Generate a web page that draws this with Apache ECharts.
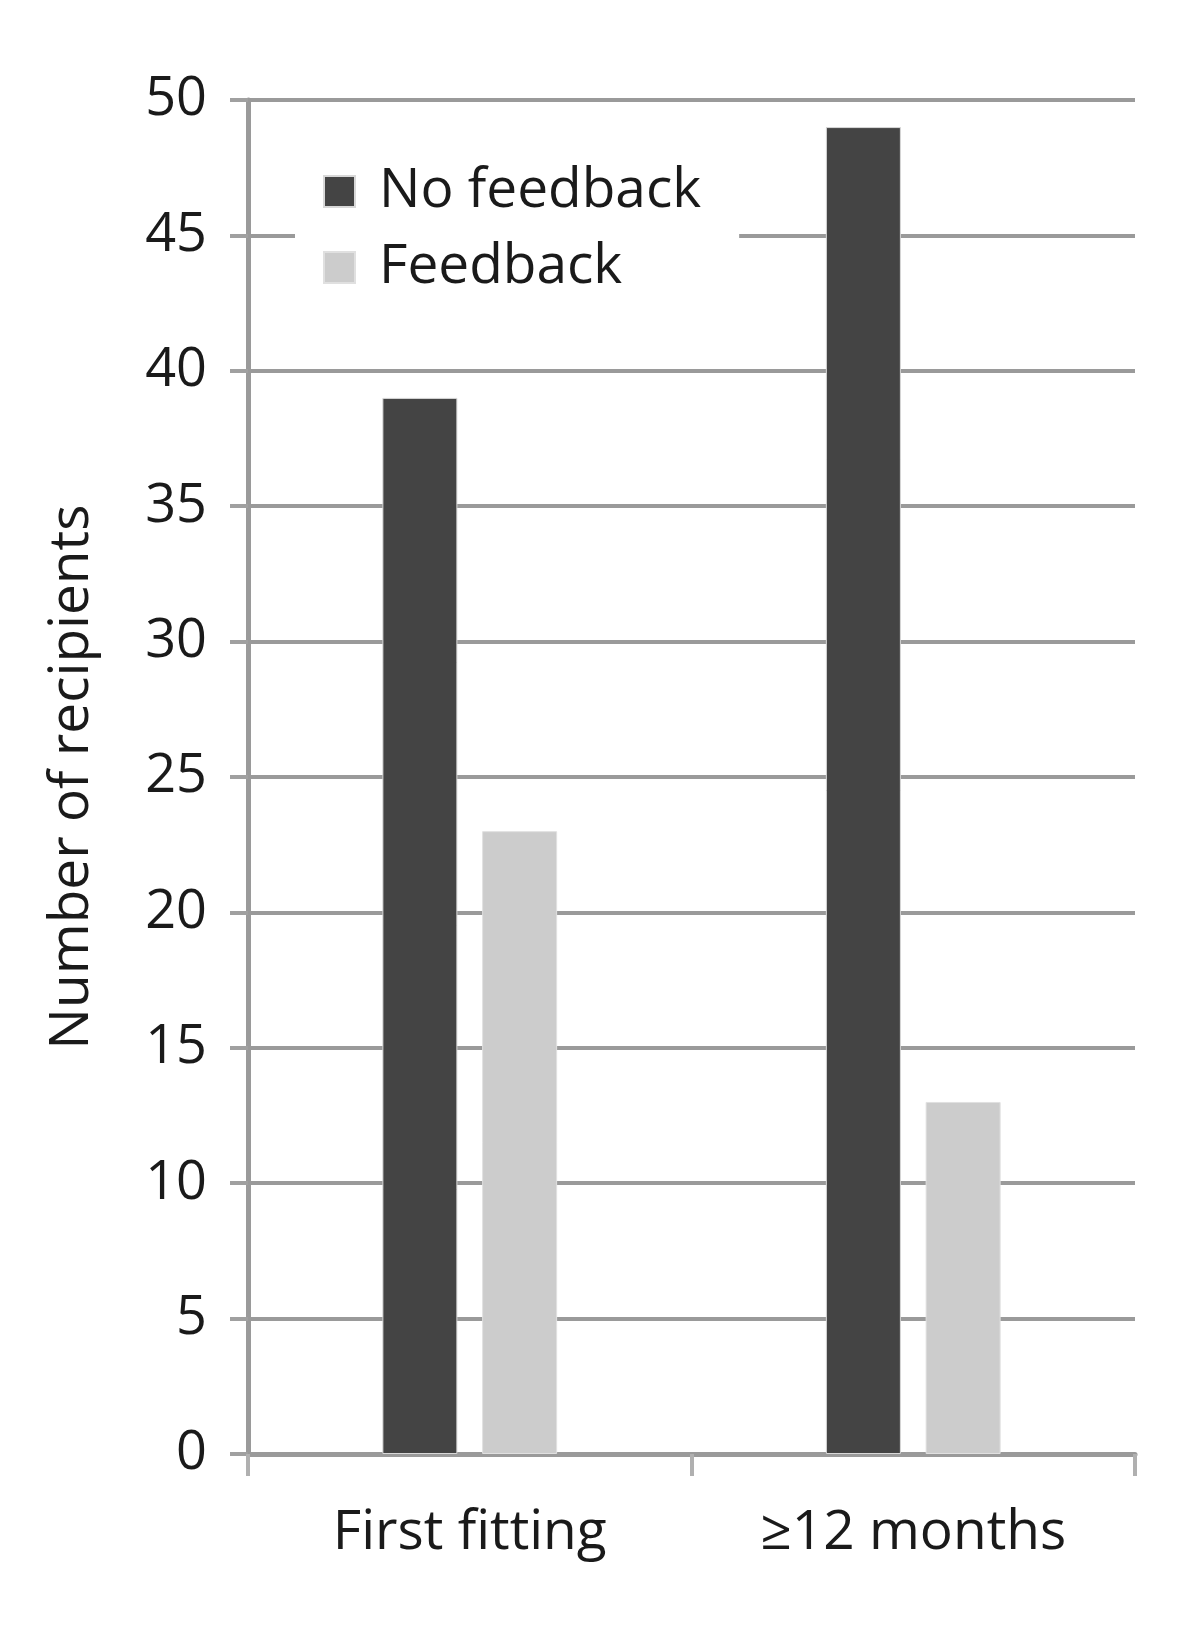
<!DOCTYPE html>
<html>
<head>
<meta charset="utf-8">
<script src="https://cdn.jsdelivr.net/npm/echarts@6/dist/echarts.min.js"></script>
<style>html,body{margin:0;padding:0;background:#fff;}#c{width:1200px;height:1625px;}</style>
</head>
<body>
<div id="c"></div>
<script>
const categories = ['First fitting', '\u226512 months'];
const noFeedback = [39, 49];
const feedback = [23, 13];
const yTicks = [0, 5, 10, 15, 20, 25, 30, 35, 40, 45, 50];

const FONT = '"Open Sans", "Noto Sans", sans-serif';
const chart = echarts.init(document.getElementById('c'), null, {renderer: 'canvas'});
chart.setOption({
  animation: false,
  backgroundColor: '#ffffff',
  grid: {left: 248, right: 65, top: 100, bottom: 171, containLabel: false},
  legend: {
    orient: 'vertical',
    left: 295, top: 150,
    padding: [14, 38, 14, 28],
    backgroundColor: '#ffffff',
    icon: 'rect',
    itemWidth: 31, itemHeight: 31,
    itemGap: 21,
    textStyle: {fontFamily: FONT, fontSize: 55, color: '#1a1a1a', padding: [0, 0, 0, 19]},
    data: ['No feedback', 'Feedback']
  },
  xAxis: {
    type: 'category',
    data: categories,
    boundaryGap: true,
    axisLine: {lineStyle: {color: '#9a9a9a', width: 5}},
    axisTick: {show: true, length: 22, lineStyle: {color: '#b0b0b0', width: 4}},
    axisLabel: {fontFamily: FONT, fontSize: 55, color: '#1a1a1a', margin: 52}
  },
  yAxis: {
    type: 'value',
    min: yTicks[0], max: yTicks[yTicks.length - 1], interval: 5,
    name: 'Number of recipients',
    nameLocation: 'middle',
    nameGap: 148,
    nameTextStyle: {fontFamily: FONT, fontSize: 55, color: '#1a1a1a'},
    axisLine: {show: true, lineStyle: {color: '#9a9a9a', width: 5}},
    axisTick: {show: true, length: 18, lineStyle: {color: '#a0a0a0', width: 4}},
    axisLabel: {fontFamily: FONT, fontSize: 54, color: '#1a1a1a', margin: 41},
    splitLine: {show: true, lineStyle: {color: '#9a9a9a', width: 4}}
  },
  series: [
    {name: 'No feedback', type: 'bar', data: noFeedback, barWidth: 75, barGap: '33%',
     itemStyle: {color: '#444444', borderColor: '#d8d8d8', borderWidth: 1}},
    {name: 'Feedback', type: 'bar', data: feedback, barWidth: 75, barGap: '33%',
     itemStyle: {color: '#cccccc', borderColor: '#e0e0e0', borderWidth: 1}}
  ]
});
</script>
</body>
</html>
